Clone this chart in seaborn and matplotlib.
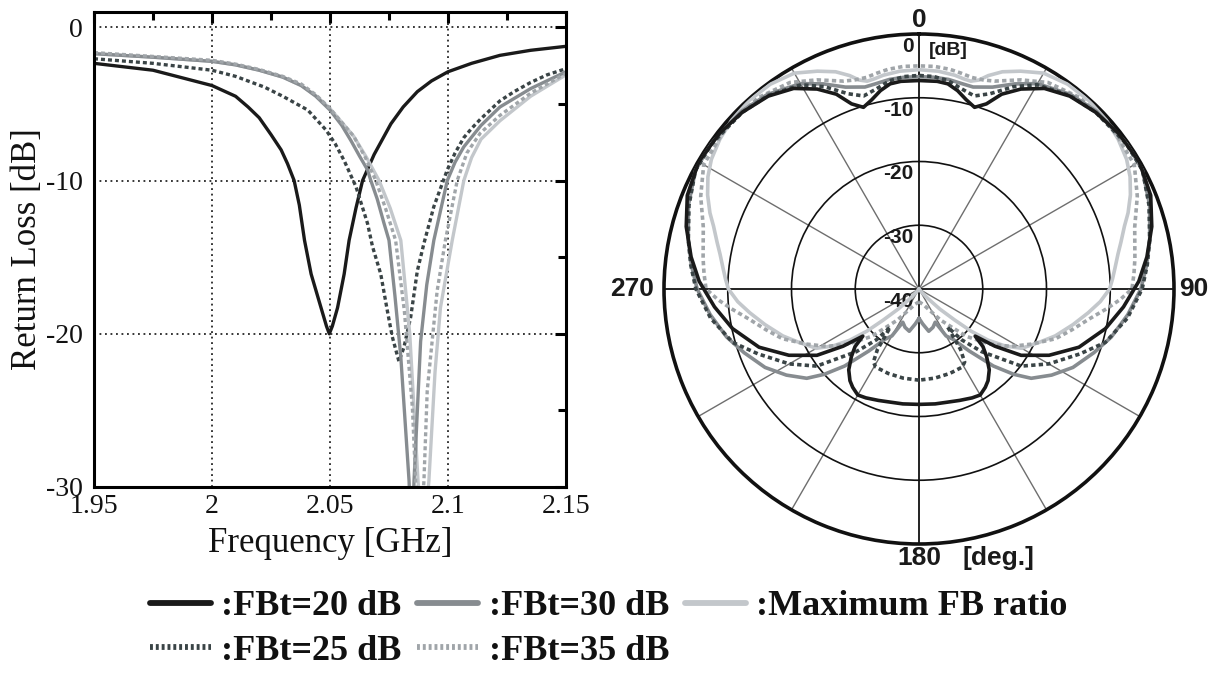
import numpy as np
import matplotlib
matplotlib.use("Agg")
import matplotlib.pyplot as plt
import seaborn as sns
from matplotlib.lines import Line2D
from matplotlib.ticker import FixedLocator
from matplotlib.font_manager import FontProperties

sns.set_theme(style="white")
plt.rcParams["font.family"] = ["Liberation Serif", "DejaVu Serif"]
plt.rcParams["text.color"] = "#111111"

# ---------------- Return loss data (GHz, dB) ----------------
f_20 = [1.95, 1.975, 2.0, 2.01, 2.0153, 2.02, 2.025, 2.0293, 2.032, 2.0348, 2.037, 2.0392, 2.042,
        2.0462, 2.0485, 2.0497, 2.051, 2.0532, 2.056, 2.0581, 2.061, 2.0638, 2.0687, 2.0758,
        2.081, 2.087, 2.093, 2.1, 2.11, 2.122, 2.135, 2.15]
rl_20 = [-2.35, -2.8, -3.8, -4.5, -5.2, -5.9, -7.0, -8.0, -8.9, -10.0, -11.6, -13.9, -16.1,
         -18.3, -19.5, -20.0, -19.5, -18.3, -16.1, -13.9, -11.8, -10.0, -8.3, -6.3,
         -5.2, -4.2, -3.5, -2.9, -2.35, -1.83, -1.5, -1.24]

f_25 = [1.95, 1.975, 2.0, 2.01, 2.0222, 2.03, 2.0406, 2.0483, 2.0522, 2.056, 2.061, 2.0659,
        2.068, 2.0715, 2.0743, 2.0764, 2.0792, 2.0813, 2.0842, 2.087, 2.0898, 2.094, 2.0997,
        2.103, 2.1067, 2.11, 2.1137, 2.122, 2.128, 2.135, 2.142, 2.15]
rl_25 = [-2.05, -2.35, -2.8, -3.2, -3.9, -4.5, -5.4, -6.7, -7.6, -8.7, -10.4, -12.8,
         -14.3, -16.1, -18.5, -20.2, -21.8, -20.9, -18.9, -15.9, -14.1, -11.7, -9.3,
         -8.2, -7.2, -6.6, -6.0, -4.8, -4.2, -3.6, -3.1, -2.7]

f_30 = [1.95, 1.975, 2.0, 2.01, 2.02, 2.03, 2.0378, 2.044, 2.05, 2.055, 2.0589, 2.0625,
        2.0659, 2.0673, 2.07, 2.0729, 2.075, 2.0775, 2.08, 2.0835, 2.0846, 2.0856, 2.0884,
        2.091, 2.094, 2.0997, 2.103, 2.1067, 2.114, 2.122, 2.135, 2.15]
rl_30 = [-1.72, -1.95, -2.22, -2.45, -2.8, -3.25, -3.8, -4.5, -5.4, -6.4, -7.4, -8.4,
         -9.3, -10.0, -11.2, -12.8, -13.9, -17.5, -21.5, -29.6, -34.0, -29.6, -20.5,
         -16.8, -13.9, -10.0, -8.8, -7.8, -6.4, -5.2, -4.0, -2.9]

f_35 = [1.95, 1.975, 2.0, 2.01, 2.02, 2.03, 2.0378, 2.044, 2.05, 2.055, 2.06, 2.065, 2.0694,
        2.0735, 2.0778, 2.0815, 2.0849, 2.0863, 2.088, 2.0898, 2.0912, 2.0954, 2.0989, 2.1039,
        2.108, 2.1137, 2.122, 2.135, 2.15]
rl_35 = [-1.65, -1.9, -2.15, -2.4, -2.75, -3.2, -3.7, -4.4, -5.3, -6.2, -7.1, -8.5, -10.0,
         -11.8, -13.9, -18.5, -24.8, -29.6, -34.0, -29.6, -23.7, -17.2, -13.9, -10.0,
         -8.2, -6.9, -5.75, -4.3, -3.0]

f_max = [1.95, 1.975, 2.0, 2.01, 2.02, 2.03, 2.0378, 2.044, 2.05, 2.055, 2.06, 2.0655, 2.0708,
         2.0755, 2.08, 2.0838, 2.0873, 2.0896, 2.0919, 2.0945, 2.0968, 2.1018, 2.1067, 2.11,
         2.114, 2.122, 2.135, 2.15]
rl_max = [-1.72, -1.95, -2.22, -2.45, -2.8, -3.25, -3.8, -4.45, -5.3, -6.2, -7.1, -8.5, -10.0,
          -11.8, -13.9, -20.0, -29.6, -34.0, -29.6, -22.5, -18.3, -13.9, -10.0, -8.5,
          -7.3, -6.1, -4.5, -3.1]

x_ticks = [1.95, 2.0, 2.05, 2.1, 2.15]
x_labels = ["1.95", "2", "2.05", "2.1", "2.15"]
y_ticks = [0, -10, -20, -30]
y_labels = ["0", "-10", "-20", "-30"]

# ---------------- Radiation pattern data (deg, dB), symmetric about 0-180 ----------------
ang_20 = [0, 5, 8, 11, 14, 17, 20, 23, 27, 32, 38, 45, 52, 60, 68, 75, 82, 88, 95, 102, 110,
          117, 123, 127, 130, 132, 135, 139, 143, 146, 150, 154, 160, 166, 172, 180]
pat_20 = [-7.3, -7.3, -7.5, -8.3, -9.4, -10.2, -9.1, -6.8, -4.8, -2.9, -1.6, -0.8, -0.3, -0.1,
          -0.8, -2.2, -3.9, -5.5, -7.8, -10.1, -13.3, -17.1, -20.9, -25.1, -28.5, -26.5, -25.0,
          -23.2, -22.0, -21.4, -20.8, -21.0, -21.4, -21.7, -21.8, -21.9]

ang_25 = [0, 4, 8, 12, 16, 20, 25, 30, 38, 45, 55, 62, 70, 78, 84, 90, 98, 106, 112, 120, 127,
          135, 140, 143, 145.5, 148, 151, 160, 170, 180]
pat_25 = [-6.5, -6.6, -7.0, -7.9, -8.5, -7.4, -5.0, -3.0, -1.5, -0.8, -0.3, -0.3, -1.6, -3.0,
          -4.0, -5.0, -7.0, -9.6, -12.8, -16.5, -19.9, -26.1, -29.6, -32.5, -28.5, -26.5, -26.0,
          -25.9, -25.8, -25.7]

ang_30 = [0, 4, 8, 12, 15, 20, 25, 30, 38, 45, 55, 62, 70, 78, 84, 90, 97, 104, 110, 117, 123,
          128.5, 132, 136, 141, 146, 150, 154, 160, 167, 174, 180]
pat_30 = [-6.7, -6.7, -6.8, -7.1, -7.2, -6.3, -4.5, -2.8, -1.3, -0.6, -0.2, -0.3, -1.5, -3.0,
          -4.1, -5.2, -7.0, -8.9, -10.8, -12.9, -15.2, -17.5, -20.0, -23.2, -27.5, -30.5, -31.5,
          -34.2, -33.6, -33.2, -34.5, -35.4]

ang_35 = [0, 4, 8, 11, 14, 17, 20, 26, 32, 40, 50, 60, 67, 74, 82, 86, 90, 93, 96, 100, 105,
          110, 116, 122, 128, 135, 145, 155, 165, 180]
pat_35 = [-5.0, -5.0, -5.2, -5.5, -5.8, -5.7, -5.3, -3.5, -1.8, -0.8, -0.5, -1.0, -2.8, -4.8,
          -5.8, -6.2, -6.6, -8.4, -10.4, -12.9, -15.2, -17.2, -20.3, -23.0, -26.0, -29.5,
          -34.0, -36.5, -37.5, -38.0]

ang_max = [0, 5, 9.5, 12, 14, 16, 18, 21, 25, 30, 36, 42, 48, 53, 58, 62, 66, 70, 73, 77, 80,
           84, 87, 90, 94, 98, 103, 109, 114, 120, 123.5, 126.5, 129, 131, 134, 137, 141, 145,
           180]
pat_max = [-5.6, -5.7, -6.0, -6.3, -6.4, -5.9, -4.8, -3.5, -2.3, -0.9, -0.3, -0.2, -0.45,
           -0.9, -1.6, -2.5, -3.7, -5.1, -6.3, -7.5, -8.3, -9.1, -9.6, -10.1, -11.5, -13.2,
           -15.2, -17.4, -19.4, -21.4, -23.8, -26.5, -29.5, -32.6, -35.5, -38.0, -39.5, -40.0,
           -40.0]

labels = [":FBt=20 dB", ":FBt=25 dB", ":FBt=30 dB", ":FBt=35 dB", ":Maximum FB ratio"]
colors = ["#1a1a1a", "#3a4446", "#878c90", "#a0a5a9", "#c3c7cb"]
dotted = (0, (1.2, 0.9))
lstyles = ["-", dotted, "-", dotted, "-"]

fig = plt.figure(figsize=(12.21, 6.80), dpi=100)
W, H = 1221.0, 680.0

# ---------------- Left: return loss ----------------
ax = fig.add_axes([94 / W, 1 - 487 / H, 472 / W, 475 / H])
rl_series = [(f_20, rl_20), (f_25, rl_25), (f_30, rl_30), (f_35, rl_35), (f_max, rl_max)]
for i in [0, 1, 4, 2, 3]:
    fx, dy = rl_series[i]
    sns.lineplot(x=fx, y=dy, ax=ax, color=colors[i], linewidth=2.4, linestyle=lstyles[i],
                 sort=False, estimator=None)
ax.set_xlim(1.95, 2.15)
ax.set_ylim(-30, 1)
ax.xaxis.set_major_locator(FixedLocator(x_ticks))
ax.set_xticklabels(x_labels)
ax.xaxis.set_minor_locator(FixedLocator([1.975, 2.025, 2.075, 2.125]))
ax.yaxis.set_major_locator(FixedLocator(y_ticks))
ax.set_yticklabels(y_labels)
ax.yaxis.set_minor_locator(FixedLocator([-5, -15, -25]))
ax.tick_params(which="both", direction="in", top=True, right=True, width=2.2, colors="black",
               labelsize=20)
ax.tick_params(which="major", length=8)
ax.tick_params(which="minor", length=5.5)
ax.tick_params(axis="y", which="major", pad=8)
ax.tick_params(axis="x", which="major", pad=5)
for sp in ax.spines.values():
    sp.set_linewidth(2.2)
    sp.set_color("black")
    sp.set_visible(True)
ax.grid(True, which="major", color="black", linestyle=(0, (1.2, 2.4)), linewidth=1.1)
ax.set_xlabel("Frequency [GHz]", fontsize=25, color="#111111")
ax.set_ylabel("Return Loss [dB]", fontsize=25, color="#111111")
ax.xaxis.set_label_coords(0.5, -0.118)
ax.xaxis.label.set_va("center")
ax.yaxis.set_label_coords(-0.14, 0.5)
ax.yaxis.label.set_va("center")
for t in ax.get_xticklabels() + ax.get_yticklabels():
    t.set_color("#111111")

# ---------------- Right: polar pattern ----------------
pax = fig.add_axes([664 / W, 1 - 544 / H, 510 / W, 510 / H], projection="polar")
pax.set_theta_zero_location("N")
pax.set_theta_direction(-1)
pat_series = [(ang_20, pat_20), (ang_25, pat_25), (ang_30, pat_30), (ang_35, pat_35),
              (ang_max, pat_max)]
for i in [4, 3, 2, 1, 0]:
    a, p = pat_series[i]
    a = np.asarray(a, dtype=float)
    p = np.asarray(p, dtype=float)
    th = np.deg2rad(np.concatenate([-a[::-1], a[1:]]))
    rr = np.concatenate([p[::-1], p[1:]])
    sns.lineplot(x=th, y=rr, ax=pax, color=colors[i], linewidth=2.6, linestyle=lstyles[i],
                 sort=False, estimator=None, zorder=3)
pax.set_ylim(-40, 0)
pax.set_xlabel("")
pax.set_ylabel("")
pax.set_rgrids([-30, -20, -10], labels=["", "", ""])
pax.set_thetagrids(list(range(0, 360, 30)), labels=[""] * 12)
pax.grid(True)
for k, gl in enumerate(pax.xaxis.get_gridlines()):
    if k % 3 == 0:
        gl.set_color("#111111")
        gl.set_linewidth(1.3)
    else:
        gl.set_color("#6e6e6e")
        gl.set_linewidth(1.0)
    gl.set_linestyle("-")
for gl in pax.yaxis.get_gridlines():
    gl.set_color("#111111")
    gl.set_linewidth(1.2)
    gl.set_linestyle("-")
pax.spines["polar"].set_linewidth(2.6)
pax.spines["polar"].set_color("#111111")
pax.set_facecolor("white")

bold_sans = dict(family=["Liberation Sans", "DejaVu Sans"], weight="bold", color="#1a1a1a")
pax.annotate("0", xy=(0, 0), xytext=(0, 1.5), textcoords="offset points", ha="center",
             va="bottom", fontsize=19, annotation_clip=False, **bold_sans)
pax.annotate("90", xy=(np.pi / 2, 0), xytext=(4, 0), textcoords="offset points", ha="left",
             va="center", fontsize=19, annotation_clip=False, **bold_sans)
pax.annotate("270", xy=(3 * np.pi / 2, 0), xytext=(-7, 0), textcoords="offset points",
             ha="right", va="center", fontsize=19, annotation_clip=False, **bold_sans)
pax.annotate("180", xy=(np.pi, 0), xytext=(0, -1.5), textcoords="offset points", ha="center",
             va="top", fontsize=19, annotation_clip=False, **bold_sans)
pax.annotate("[deg.]", xy=(np.pi, 0), xytext=(31, -1.5), textcoords="offset points", ha="left",
             va="top", fontsize=19, annotation_clip=False, **bold_sans)
ring_vals = [0, -10, -20, -30, -40]
for v in ring_vals:
    pax.annotate(str(v), xy=(0, v), xytext=(-4, -2), textcoords="offset points", ha="right",
                 va="top", fontsize=15, annotation_clip=False, zorder=2, **bold_sans)
pax.annotate("[dB]", xy=(0, 0), xytext=(7, -12), textcoords="offset points", ha="left",
             va="center", fontsize=14, annotation_clip=False, **bold_sans)

# ---------------- Legend ----------------
handles = []
for i in range(5):
    if lstyles[i] == "-":
        handles.append(Line2D([], [], color=colors[i], linewidth=4.2, linestyle="-"))
    else:
        handles.append(Line2D([], [], color=colors[i], linewidth=4.2, linestyle=(0, (0.5, 0.5))))
leg = fig.legend(handles, labels, loc="upper left", bbox_to_anchor=(150 / W, 1 - 590 / H), ncol=3,
                 frameon=False,
                 prop=FontProperties(family="Liberation Serif", weight="bold", size=26),
                 handlelength=1.69, handletextpad=0.28, columnspacing=0.44, labelspacing=0.32,
                 borderpad=0, borderaxespad=0)
for t in leg.get_texts():
    t.set_color("#111111")

fig.savefig("out.png", dpi=100, facecolor="white")
